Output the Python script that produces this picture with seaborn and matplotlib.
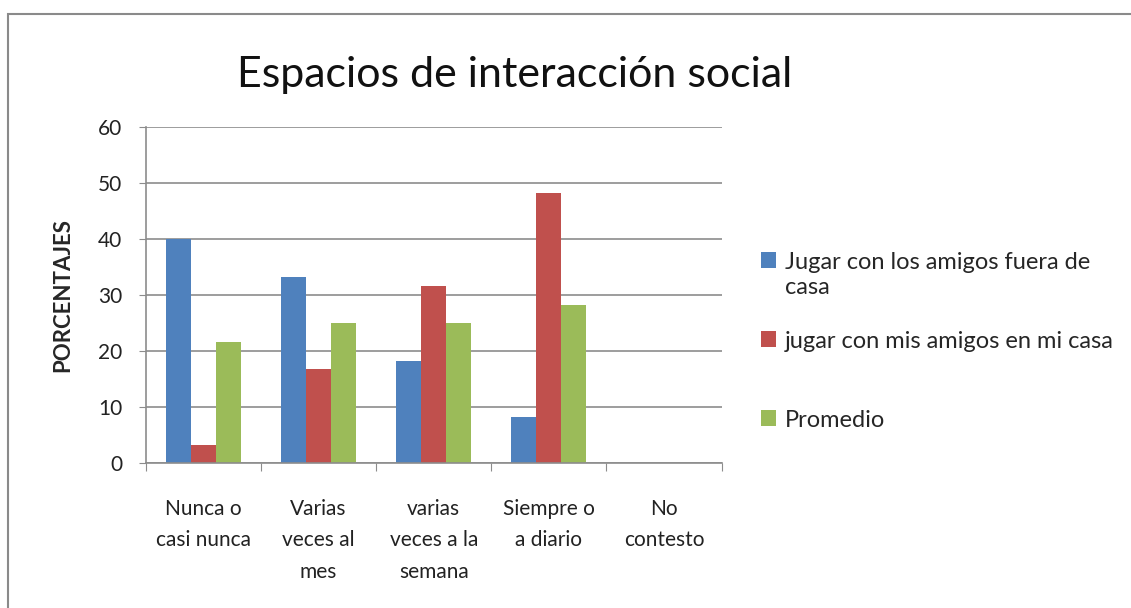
import numpy as np
import pandas as pd
import matplotlib
matplotlib.use("Agg")
import matplotlib.pyplot as plt
import seaborn as sns
from matplotlib.patches import Rectangle

categorias = ["Nunca o\ncasi nunca", "Varias\nveces al\nmes", "varias\nveces a la\nsemana",
              "Siempre o\na diario", "No\ncontesto"]
series = ["Jugar con los amigos fuera de\ncasa", "jugar con mis amigos en mi casa", "Promedio"]
fuera_casa = [40.0, 33.3, 18.3, 8.3, 0.0]
en_mi_casa = [3.3, 16.7, 31.7, 48.3, 0.0]
promedio = [21.7, 25.0, 25.0, 28.3, 0.0]
colores = ["#4F81BD", "#C0504D", "#9BBB59"]

df = pd.DataFrame({
    "cat": categorias * 3,
    "serie": [series[0]] * 5 + [series[1]] * 5 + [series[2]] * 5,
    "valor": fuera_casa + en_mi_casa + promedio,
})

sns.set_style("white")
plt.rcParams["font.family"] = ["Lato", "DejaVu Sans"]

fig = plt.figure(figsize=(11.31, 6.08), dpi=100)
ax = fig.add_axes([0.129, 0.2385, 0.509, 0.5525])

sns.barplot(data=df, x="cat", y="valor", hue="serie", palette=colores, saturation=1,
            width=0.65, linewidth=0, ax=ax, order=categorias, hue_order=series)

ax.set_ylim(0, 60)
ax.set_xlim(-0.5, 4.5)
ax.set_yticks(range(0, 61, 10))
ax.yaxis.grid(True, color="#8c8c8c", linewidth=1.2)
ax.set_axisbelow(True)
for s in ["top", "right"]:
    ax.spines[s].set_visible(False)
for s in ["left", "bottom"]:
    ax.spines[s].set_color("#8c8c8c")
    ax.spines[s].set_linewidth(1.2)

ax.set_xticks(np.arange(-0.5, 5.0, 1.0), minor=False)
ax.set_xticklabels([])
ax.set_xticks(np.arange(5), minor=True)
ax.set_xticklabels(categorias, minor=True, fontsize=15, linespacing=1.7, color="#222222")
ax.tick_params(axis="x", which="major", length=6, color="#8c8c8c", direction="out", bottom=True)
ax.tick_params(axis="x", which="minor", length=0, pad=26)
ax.tick_params(axis="y", length=5, color="#8c8c8c", direction="out", left=True,
               labelsize=15, labelcolor="#222222", pad=12)
ax.set_xlabel("")
ax.set_ylabel("PORCENTAJES", fontsize=16, fontweight="bold", labelpad=18)

# the blank second line keeps every entry two lines tall, so the rows are evenly spaced
etiquetas = [series[0], series[1] + "\n", series[2]]
handles, _ = ax.get_legend_handles_labels()
leg = ax.legend(handles, etiquetas, loc="upper left", bbox_to_anchor=(1.052, 0.655),
                frameon=False, fontsize=17, handlelength=0.65, handleheight=0.65,
                handletextpad=0.35, labelspacing=1.42, borderaxespad=0)
for col in leg._legend_handle_box.get_children():
    for item in col.get_children():
        item.align = "top"

fig.text(0.455, 0.877, "Espacios de interacción social", fontsize=31,
         ha="center", va="center", color="#111111")

fig.add_artist(Rectangle((8 / 1131, -0.1), 1.2, 1 - 14 / 608 + 0.1, transform=fig.transFigure,
                         fill=False, edgecolor="#8a8a8a", linewidth=1.5))

fig.savefig("out.png", dpi=100)
